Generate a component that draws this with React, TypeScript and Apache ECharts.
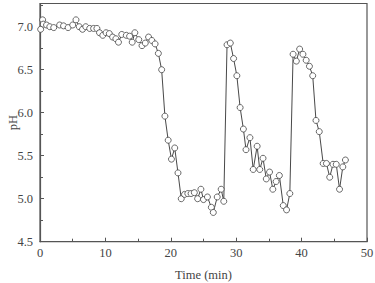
import React, { useEffect, useRef } from "react";
import * as echarts from "echarts";

const timeMin = [0.1,0.4,0.5,1.0,1.5,2.1,3.0,3.6,4.3,5.0,5.5,6.0,6.5,7.0,7.6,8.2,8.7,9.1,9.6,10.1,10.6,11.1,11.6,12.0,12.5,13.2,13.7,14.1,14.5,15.1,15.6,16.1,16.6,17.1,17.6,18.1,18.6,19.1,19.6,20.1,20.6,21.1,21.6,22.1,22.6,23.1,23.6,24.1,24.6,25.0,25.6,26.2,26.5,27.1,27.7,28.1,28.6,29.1,29.6,30.1,30.6,31.1,31.5,32.1,32.6,33.2,33.6,34.1,34.6,35.1,35.6,36.1,36.6,37.2,37.7,38.2,38.7,39.2,39.7,40.2,40.7,41.2,41.7,42.2,42.7,43.3,43.8,44.3,44.8,45.3,45.8,46.3,46.7];
const phValues = [6.97,7.08,7.03,7.02,7.0,6.99,7.02,7.01,6.99,7.02,7.08,7.0,6.97,7.0,6.98,6.98,6.98,6.93,6.9,6.93,6.92,6.88,6.86,6.82,6.91,6.9,6.89,6.82,6.93,6.85,6.78,6.81,6.88,6.84,6.8,6.69,6.5,5.96,5.68,5.46,5.59,5.30,5.0,5.05,5.06,5.06,5.07,5.0,5.11,4.99,5.02,4.90,4.84,5.02,5.11,4.97,6.79,6.81,6.63,6.43,6.06,5.81,5.57,5.71,5.34,5.61,5.34,5.47,5.23,5.31,5.11,5.20,5.27,4.92,4.87,5.06,6.68,6.60,6.74,6.68,6.61,6.54,6.43,5.91,5.78,5.41,5.41,5.25,5.40,5.40,5.11,5.37,5.45];

const xTitle = "Time (min)";
const yTitle = "pH";

export default function App() {
  const ref = useRef<HTMLDivElement>(null);
  useEffect(() => {
    if (!ref.current) return;
    const chart = echarts.init(ref.current, null, { renderer: "svg" });
    const font = "'Liberation Serif', 'Times New Roman', serif";
    const axisColor = "#555";
    const textColor = "#444";
    chart.setOption({
      animation: false,
      backgroundColor: "#fff",
      textStyle: { fontFamily: font },
      grid: {
        left: 40, right: 8, top: 3.5, bottom: 41.3,
        outerBoundsMode: "none",
        containLabel: false,
        show: true, borderColor: axisColor, borderWidth: 1.2, backgroundColor: "transparent",
      },
      xAxis: {
        type: "value", min: 0, max: 50, interval: 10,
        name: xTitle, nameLocation: "middle", nameGap: 27, nameMoveOverlap: false,
        nameTextStyle: { fontFamily: font, fontSize: 12.5, color: textColor },
        axisLine: { show: true, lineStyle: { color: axisColor, width: 1.2 } },
        axisTick: { show: true, inside: true, length: 4, lineStyle: { color: axisColor } },
        minorTick: { show: true, splitNumber: 2, length: 3, lineStyle: { color: axisColor } },
        splitLine: { show: false },
        axisLabel: { fontFamily: font, fontSize: 12.5, color: textColor, margin: 5 },
      },
      yAxis: {
        type: "value", min: 4.5, max: 7.27, interval: 0.5,
        name: yTitle, nameLocation: "middle", nameGap: 21, nameRotate: 90, nameMoveOverlap: false,
        nameTextStyle: { fontFamily: font, fontSize: 12.5, color: textColor },
        axisLine: { show: true, lineStyle: { color: axisColor, width: 1.2 } },
        axisTick: { show: true, inside: true, length: 4, lineStyle: { color: axisColor } },
        minorTick: { show: true, splitNumber: 2, length: 3, lineStyle: { color: axisColor } },
        splitLine: { show: false },
        axisLabel: {
          fontFamily: font, fontSize: 12.5, color: textColor, margin: 7,
          formatter: (v: number) => (Math.abs(v * 2 - Math.round(v * 2)) < 1e-6 ? v.toFixed(1) : ""),
        },
      },
      series: [
        {
          type: "line",
          data: timeMin.map((t, i) => [t, phValues[i]]),
          symbol: "circle",
          symbolSize: 6,
          showAllSymbol: true,
          lineStyle: { color: "#333", width: 0.9 },
          itemStyle: { color: "#fff", borderColor: "#444", borderWidth: 0.8 },
        },
      ],
    });
    return () => chart.dispose();
  }, []);
  return (
    <div
      ref={ref}
      style={{ position: "absolute", left: 0, top: 0, width: 375, height: 283 }}
    />
  );
}
